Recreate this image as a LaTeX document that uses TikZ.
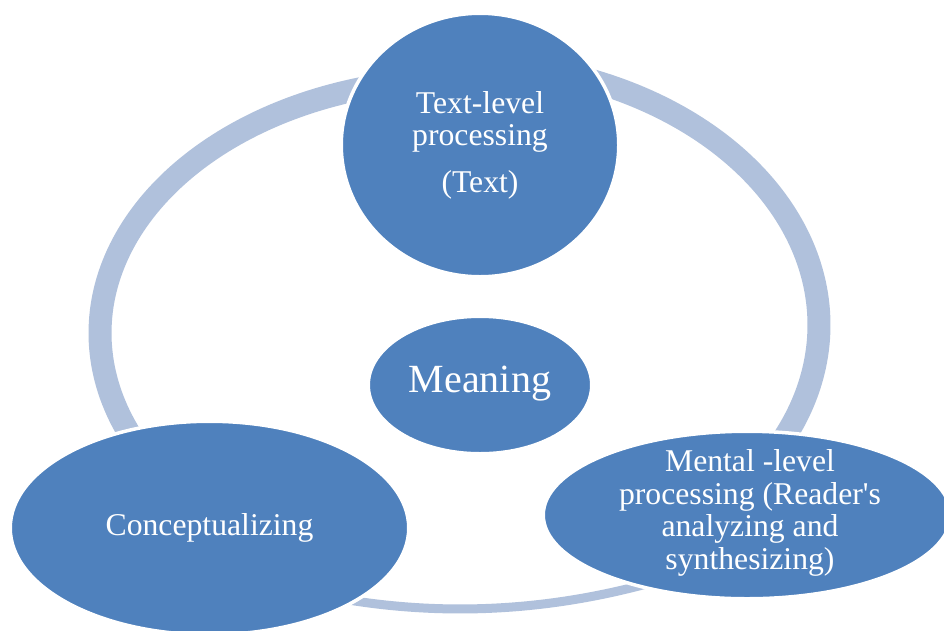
\documentclass[tikz,border=0pt]{standalone}
\usepackage{fontspec}
\setmainfont{Liberation Serif}
\usetikzlibrary{shapes.geometric}
\definecolor{nodeblue}{RGB}{79,129,189}
\definecolor{ringblue}{RGB}{176,193,220}
\begin{document}
\begin{tikzpicture}[x=1pt,y=-1pt,
  blob/.style={ellipse, fill=nodeblue, draw=white, line width=3.5pt, inner sep=0pt},
  lbl/.style={text=white, align=center, inner sep=0pt, font=\fontsize{31.7}{32.5}\selectfont},
  ring/.style={draw=ringblue, line width=23pt},
  thinring/.style={draw=ringblue, line width=9pt}]
\useasboundingbox (0,0) rectangle (944,630);
\fill[white] (0,0) rectangle (944,630);
% ring segments
\draw[ring] plot[domain=100:206, samples=90] ({459+359*cos(\x)},{333-254*sin(\x)});
\draw[ring] plot[domain=-27:80, samples=90] ({459+360*cos(\x)},{325-263*sin(\x)});
\coordinate (bl) at (340,598.6);
\coordinate (br) at (660,580.2);
\draw[thinring] (bl) .. controls (446.7,617.0) and (553.3,610.9) .. (br);
% nodes
\node[blob, minimum width=277.5pt, minimum height=263.5pt] (top) at (480,145) {};
\node[blob, minimum width=223.5pt, minimum height=137.5pt] (meaning) at (480,385) {};
\node[blob, minimum width=398.5pt, minimum height=213.5pt] (concept) at (209.5,528) {};
\node[blob, minimum width=407.5pt, minimum height=167.5pt] (mental) at (747,515) {};
% texts
\node[lbl] (toptext) at (top.center) {Text-level\\processing\\[14pt](Text)};
\node[lbl, font=\fontsize{40}{44}\selectfont] (meaningtext) at (480,383.7) {Meaning};
\node[lbl] (concepttext) at (209.5,527.6) {Conceptualizing};
\node[lbl] (mentaltext) at (750,513) {Mental -level\\processing (Reader\textquotesingle s\\analyzing and\\synthesizing)};
\end{tikzpicture}
\end{document}
